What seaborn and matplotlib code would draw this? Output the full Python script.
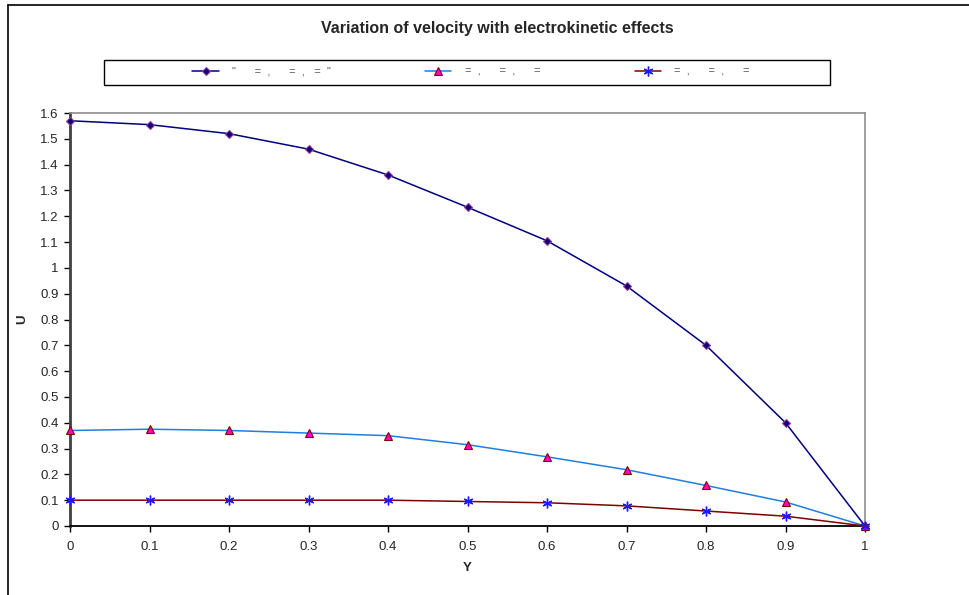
import numpy as np
import pandas as pd
import matplotlib
matplotlib.use("Agg")
import matplotlib.pyplot as plt
from matplotlib.lines import Line2D
from matplotlib.patches import Rectangle
import seaborn as sns

# Dimensionless position across the channel
y_pos = [0.0, 0.1, 0.2, 0.3, 0.4, 0.5, 0.6, 0.7, 0.8, 0.9, 1.0]

# Velocity profiles for the three parameter sets
u_case1 = [1.57, 1.555, 1.52, 1.46, 1.36, 1.235, 1.105, 0.93, 0.70, 0.40, 0.0]
u_case2 = [0.37, 0.375, 0.37, 0.36, 0.35, 0.315, 0.268, 0.218, 0.157, 0.093, 0.0]
u_case3 = [0.10, 0.10, 0.10, 0.10, 0.10, 0.095, 0.09, 0.078, 0.058, 0.038, 0.0]

legend_labels = ['"      =  ,      =  ,   =  "', '=  ,      =  ,      =', '=  ,      =  ,      =']

x_ticks = [0, 0.1, 0.2, 0.3, 0.4, 0.5, 0.6, 0.7, 0.8, 0.9, 1]
y_ticks = [0, 0.1, 0.2, 0.3, 0.4, 0.5, 0.6, 0.7, 0.8, 0.9, 1.0,
           1.1, 1.2, 1.3, 1.4, 1.5, 1.6]

sns.set_style("white")
plt.rcParams['font.family'] = ['Liberation Sans', 'DejaVu Sans']

W, H = 969, 595
fig = plt.figure(figsize=(W / 100, H / 100), dpi=100)
ax = fig.add_axes([70 / W, 1 - 526 / H, (865 - 70) / W, (526 - 113) / H])

df = pd.DataFrame({"Y": y_pos * 3,
                   "U": u_case1 + u_case2 + u_case3,
                   "case": ["c1"] * 11 + ["c2"] * 11 + ["c3"] * 11})

styles = {
    "c1": dict(color="#000080", marker="D", markersize=4.5,
               markerfacecolor="#000080", markeredgecolor="#9b3b8f", mew=0.8),
    "c2": dict(color="#1f7fe0", marker="^", markersize=6,
               markerfacecolor="#ff00cc", markeredgecolor="#800000", mew=0.8),
    "c3": dict(color="#800000", marker=(6, 2, 0), markersize=7,
               markerfacecolor="#0000ff", markeredgecolor="#1a1aff", mew=1.0),
}

handles = []
for key, lab in zip(["c1", "c2", "c3"], legend_labels):
    st = styles[key]
    sub = df[df["case"] == key]
    sns.lineplot(data=sub, x="Y", y="U", ax=ax, color=st["color"], lw=1.1,
                 marker=st["marker"], markersize=st["markersize"],
                 markerfacecolor=st["markerfacecolor"],
                 markeredgecolor=st["markeredgecolor"],
                 markeredgewidth=st["mew"], zorder=3, clip_on=False)
    handles.append(Line2D([], [], color=st["color"], lw=1.1,
                          marker=st["marker"], markersize=st["markersize"],
                          markerfacecolor=st["markerfacecolor"],
                          markeredgecolor=st["markeredgecolor"],
                          markeredgewidth=st["mew"], label=lab))

ax.set_xlim(0, 1)
ax.set_ylim(0, 1.6)
ax.set_xticks(x_ticks)
ax.set_xticklabels([f"{t:g}" for t in x_ticks])
ax.set_yticks(y_ticks)
ax.set_yticklabels([f"{t:g}" for t in y_ticks])
ax.tick_params(axis="both", direction="out", length=4, width=1,
               labelsize=9.5, color="black", bottom=True, left=True)
ax.tick_params(axis="x", pad=7)
ax.tick_params(axis="y", pad=4)
ax.set_xlabel("Y", fontsize=9.5, fontweight="bold", labelpad=6)
ax.set_ylabel("U", fontsize=9.5, fontweight="bold", labelpad=9)

for side in ["top", "right"]:
    ax.spines[side].set_color("#8c8c8c")
    ax.spines[side].set_linewidth(1.2)
ax.spines["left"].set_color("#404040")
ax.spines["left"].set_linewidth(2.0)
ax.spines["bottom"].set_color("black")
ax.spines["bottom"].set_linewidth(1.3)
ax.grid(False)

# Outer chart-area frame
fig.add_artist(Line2D([8 / W, 8 / W], [0, 1 - 5 / H], color="black", lw=1.2,
                      transform=fig.transFigure))
fig.add_artist(Line2D([8 / W, 1], [1 - 5 / H, 1 - 5 / H], color="black", lw=1.2,
                      transform=fig.transFigure))

fig.text(497 / W, 1 - 29 / H, "Variation of velocity with electrokinetic effects",
         ha="center", va="center", fontsize=11.5, fontweight="bold")

# Legend box
fig.add_artist(Rectangle((104 / W, 1 - 85 / H), (830 - 104) / W, 25 / H,
                         transform=fig.transFigure, fill=False,
                         edgecolor="black", lw=1.0))
fig.legend(handles=handles, loc="center", bbox_to_anchor=(471 / W, 1 - 72 / H),
           ncol=3, frameon=False, fontsize=8, handlelength=2.35,
           handletextpad=1.2, columnspacing=8.5, labelcolor="#555555")

fig.savefig("out.png", dpi=100)
